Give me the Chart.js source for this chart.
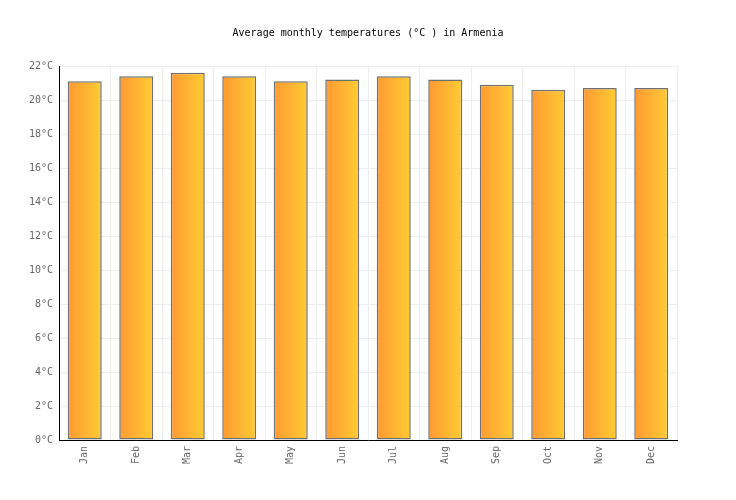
<!DOCTYPE html>
<html>
<head>
<meta charset="utf-8">
<script src="https://cdn.jsdelivr.net/npm/chart.js@4/dist/chart.umd.min.js"></script>
<style>
  html,body{margin:0;padding:0;background:#fff;}
  #wrap{width:736px;height:500px;}
</style>
</head>
<body>
<div id="wrap"><canvas id="myChart" width="736" height="500"></canvas></div>
<script>
// data
const months=["Jan","Feb","Mar","Apr","May","Jun","Jul","Aug","Sep","Oct","Nov","Dec"];
const temps=[21.1,21.4,21.6,21.4,21.1,21.2,21.4,21.2,20.9,20.6,20.7,20.7];
const yTicks=[0,2,4,6,8,10,12,14,16,18,20,22];

const font="'DejaVu Sans Mono', monospace";
const barPct=0.66;

// orange -> yellow across every single bar
const barFill=(c)=>{
    const chart=c.chart;
    const x=chart.scales.x;
    if(c.dataIndex===undefined||!x||!chart.chartArea) return "#ffb233";
    const xc=x.getPixelForValue(c.dataIndex);
    const w=(x.width/months.length)*barPct;
    const g=chart.ctx.createLinearGradient(xc-w/2,0,xc+w/2,0);
    g.addColorStop(0,"#ff9933");
    g.addColorStop(1,"#ffcc33");
    return g;
};

const ctx=document.getElementById("myChart").getContext("2d");
const myChart=new Chart(ctx,{
    type:"bar",
    data:{
        labels:months,
        datasets:[{
            label:"Temperature",
            data:temps,
            backgroundColor:barFill,
            borderColor:"#707070",
            borderWidth:1.5,
            borderSkipped:false,
            barPercentage:barPct,
            categoryPercentage:1,
        }],
    },
    options:{
        responsive:false,
        animation:false,
        plugins:{
            legend:{display:false},
            tooltip:{enabled:false},
            title:{
                display:true,
                text:"Average monthly temperatures (°C ) in Armenia",
                color:"#000",
                font:{family:font,size:10,weight:"normal"},
                padding:{top:27,bottom:27},
            },
        },
        scales:{
            x:{
                offset:true,
                grid:{color:"#eeeeee",offset:true,drawTicks:false},
                border:{color:"#000",width:1},
                ticks:{
                    color:"#666",
                    font:{family:font,size:10},
                    maxRotation:90,minRotation:90,
                    padding:6,
                },
                afterFit:(s)=>{s.height=60;},
            },
            y:{
                min:0,max:22,
                afterBuildTicks:(s)=>{s.ticks=yTicks.map(v=>({value:v}));},
                grid:{color:"#eeeeee",drawTicks:false},
                border:{color:"#000",width:1},
                ticks:{
                    color:"#666",
                    font:{family:font,size:10},
                    padding:6,
                    callback:(v)=>v+"°C",
                },
                afterFit:(s)=>{s.width=59;},
            },
            // empty right-hand margin so the title stays centred on the page
            yRight:{
                position:"right",
                min:0,max:22,
                grid:{display:false},
                border:{display:false},
                ticks:{display:false},
                afterFit:(s)=>{s.width=59;},
            },
        },
    },
});
</script>
</body>
</html>
